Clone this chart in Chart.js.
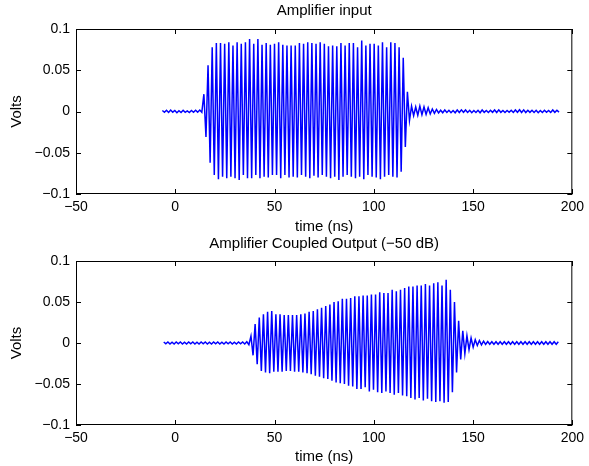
<!DOCTYPE html>
<html>
<head>
<meta charset="utf-8">
<script src="https://cdn.jsdelivr.net/npm/chart.js@4.4.1/dist/chart.umd.min.js"></script>
<style>
  body { margin: 0; background: #fff; }
  #wrap { position: relative; width: 589px; height: 466px; }
  canvas { position: absolute; left: 0; }
</style>
</head>
<body>
<div id="wrap">
  <canvas id="inputChart" width="589" height="236" style="top:0px"></canvas>
  <canvas id="outputChart" width="589" height="232" style="top:234px"></canvas>
</div>
<script>
// spacing between successive peaks/troughs of the carrier (ns)
const sampleStep = 1.046;

// Amplifier input: first sample time and peak/trough voltages
const inputStart = -6.5;
const inputVolts = [
  0.0012, -0.0010, 0.0015, -0.0012, 0.0018, -0.0008, 0.0012, -0.0015, 0.0010, -0.0012,
  0.0015, -0.0010, 0.0008, -0.0012, 0.0012, -0.0010, 0.0015, -0.0008, 0.0018, -0.0010,
  0.021, -0.031, 0.056, -0.062, 0.078, -0.077, 0.083, -0.082, 0.083, -0.079,
  0.082, -0.081, 0.084, -0.079, 0.080, -0.081, 0.084, -0.083, 0.082, -0.077,
  0.084, -0.081, 0.088, -0.081, 0.082, -0.077, 0.088, -0.081, 0.081, -0.079,
  0.083, -0.080, 0.081, -0.077, 0.082, -0.077, 0.084, -0.081, 0.081, -0.077,
  0.080, -0.080, 0.080, -0.079, 0.080, -0.080, 0.083, -0.077, 0.082, -0.079,
  0.084, -0.081, 0.083, -0.078, 0.082, -0.080, 0.084, -0.077, 0.082, -0.079,
  0.079, -0.081, 0.080, -0.079, 0.079, -0.083, 0.083, -0.079, 0.080, -0.077,
  0.083, -0.079, 0.083, -0.081, 0.078, -0.079, 0.086, -0.082, 0.080, -0.077,
  0.082, -0.079, 0.082, -0.080, 0.080, -0.082, 0.084, -0.079, 0.078, -0.077,
  0.084, -0.079, 0.083, -0.080, 0.078, -0.073, 0.065, -0.043, 0.024, -0.011,
  0.0065, -0.0050, 0.0055, -0.0045, 0.0065, -0.0040, 0.0055, -0.0035, 0.0045, -0.0030,
  0.0030, -0.0022, 0.0025, -0.0018, 0.0015, -0.0015, 0.0018, -0.0012, 0.0015, -0.0015,
  0.0012, -0.0015, 0.0018, -0.0012, 0.0020, -0.0010, 0.0018, -0.0012, 0.0015, -0.0015,
  0.0012, -0.0012, 0.0015, -0.0015, 0.0018, -0.0010, 0.0012, -0.0012, 0.0015, -0.0010,
  0.0018, -0.0012, 0.0020, -0.0010, 0.0012, -0.0012, 0.0012, -0.0010, 0.0015, -0.0012,
  0.0018, -0.0010, 0.0022, -0.0012, 0.0020, -0.0012, 0.0015, -0.0010, 0.0015, -0.0012,
  0.0015, -0.0015, 0.0012, -0.0012, 0.0015, -0.0010, 0.0012, -0.0012, 0.0018, -0.0010,
  0.0015, -0.0008
];

// Amplifier coupled output (-50 dB)
const outputStart = -5.8;
const outputVolts = [
  0.0012, -0.0010, 0.0012, -0.0012, 0.0010, -0.0012, 0.0012, -0.0010, 0.0012, -0.0012,
  0.0010, -0.0012, 0.0012, -0.0010, 0.0012, -0.0012, 0.0010, -0.0012, 0.0012, -0.0010,
  0.0012, -0.0012, 0.0010, -0.0012, 0.0012, -0.0010, 0.0012, -0.0012, 0.0010, -0.0012,
  0.0012, -0.0010, 0.0012, -0.0012, 0.0010, -0.0012, 0.0012, -0.0010, 0.0012, -0.0012,
  0.0015, -0.0020, 0.0085, -0.015, 0.023, -0.026, 0.031, -0.034, 0.035, -0.036,
  0.038, -0.037, 0.039, -0.035, 0.035, -0.035, 0.035, -0.035, 0.034, -0.034,
  0.034, -0.034, 0.034, -0.035, 0.034, -0.035, 0.035, -0.036, 0.036, -0.037,
  0.038, -0.038, 0.039, -0.040, 0.041, -0.041, 0.043, -0.043, 0.045, -0.044,
  0.047, -0.046, 0.050, -0.048, 0.051, -0.049, 0.054, -0.050, 0.054, -0.052,
  0.055, -0.053, 0.057, -0.056, 0.057, -0.056, 0.058, -0.054, 0.058, -0.059,
  0.059, -0.057, 0.059, -0.060, 0.062, -0.061, 0.061, -0.059, 0.061, -0.061,
  0.065, -0.063, 0.063, -0.061, 0.065, -0.064, 0.067, -0.065, 0.069, -0.067,
  0.069, -0.069, 0.070, -0.067, 0.070, -0.070, 0.072, -0.068, 0.070, -0.071,
  0.073, -0.072, 0.074, -0.071, 0.070, -0.073, 0.077, -0.072, 0.065, -0.060,
  0.050, -0.036, 0.027, -0.020, 0.015, -0.013, 0.009, -0.008, 0.006, -0.005,
  0.004, -0.003, 0.003, -0.0022, 0.0022, -0.0018, 0.0018, -0.0015, 0.0015, -0.0015,
  0.0015, -0.0015, 0.0015, -0.0015, 0.0015, -0.0015, 0.0015, -0.0015, 0.0015, -0.0015,
  0.0015, -0.0015, 0.0015, -0.0015, 0.0015, -0.0015, 0.0015, -0.0015, 0.0015, -0.0015,
  0.0015, -0.0015, 0.0015, -0.0015, 0.0015, -0.0015, 0.0015, -0.0015, 0.0015, -0.0015,
  0.0015
];

// axis ticks
const timeTicks = [-50, 0, 50, 100, 150, 200];
const voltTicks = [-0.1, -0.05, 0, 0.05, 0.1];

Chart.defaults.font.family = '"Liberation Sans", Arial, sans-serif';
Chart.defaults.color = '#000';

function fmt(v) {
  return String(Math.round(v * 100) / 100).replace('-', '\u2212');
}

function toPoints(start, values) {
  return values.map((v, i) => ({ x: start + i * sampleStep, y: v }));
}

// box round the axes with inward tick marks, like the original figure
const axesBox = {
  id: 'axesBox',
  afterDatasetsDraw(chart) {
    const { ctx, chartArea: a, scales: { x, y } } = chart;
    ctx.save();
    ctx.strokeStyle = '#000';
    ctx.lineWidth = 1;
    ctx.strokeRect(a.left + 0.5, a.top + 0.5, a.right - a.left - 1, a.bottom - a.top - 1);
    ctx.beginPath();
    timeTicks.forEach(t => {
      const px = Math.round(x.getPixelForValue(t)) + 0.5;
      ctx.moveTo(px, a.bottom); ctx.lineTo(px, a.bottom - 5);
      ctx.moveTo(px, a.top); ctx.lineTo(px, a.top + 5);
    });
    voltTicks.forEach(v => {
      const py = Math.round(y.getPixelForValue(v)) + 0.5;
      ctx.moveTo(a.left, py); ctx.lineTo(a.left + 5, py);
      ctx.moveTo(a.right, py); ctx.lineTo(a.right - 5, py);
    });
    ctx.stroke();
    ctx.restore();
  }
};

function drawScope(canvasId, titleText, start, values, titlePad, xHeight) {
  const ctx = document.getElementById(canvasId).getContext('2d');
  return new Chart(ctx, {
    type: 'line',
    data: {
      datasets: [{
        data: toPoints(start, values),
        borderColor: '#0000ff',
        borderWidth: 1.5,
        pointRadius: 0,
        tension: 0,
        fill: false
      }]
    },
    options: {
      responsive: false,
      animation: false,
      events: [],
      layout: { padding: { left: 0, right: 13, top: 0, bottom: 0 } },
      plugins: {
        legend: { display: false },
        tooltip: { enabled: false },
        title: {
          display: true,
          fullSize: false,
          text: titleText,
          color: '#000',
          font: { size: 15, weight: 'normal' },
          padding: titlePad
        }
      },
      scales: {
        x: {
          type: 'linear',
          min: -50,
          max: 200,
          afterBuildTicks: s => { s.ticks = timeTicks.map(v => ({ value: v })); },
          afterFit: s => { s.height = xHeight; },
          grid: { display: false, drawTicks: false },
          border: { display: false },
          ticks: { padding: 5, font: { size: 14 }, callback: fmt, maxRotation: 0 },
          title: { display: true, text: 'time (ns)', font: { size: 15 }, padding: { top: 0, bottom: 0 } }
        },
        y: {
          min: -0.1,
          max: 0.1,
          afterBuildTicks: s => { s.ticks = voltTicks.map(v => ({ value: v })); },
          afterFit: s => { s.width = 76; },
          grid: { display: false, drawTicks: false },
          border: { display: false },
          ticks: { padding: 6, font: { size: 14 }, callback: fmt },
          title: { display: true, text: 'Volts', font: { size: 15 }, padding: { top: 8, bottom: 0 } }
        }
      }
    },
    plugins: [axesBox]
  });
}

drawScope('inputChart', 'Amplifier input', inputStart, inputVolts, { top: 2, bottom: 9 }, 42);
drawScope('outputChart', 'Amplifier Coupled Output (\u221250 dB)', outputStart, outputVolts, { top: 1, bottom: 8 }, 41);
</script>
</body>
</html>
